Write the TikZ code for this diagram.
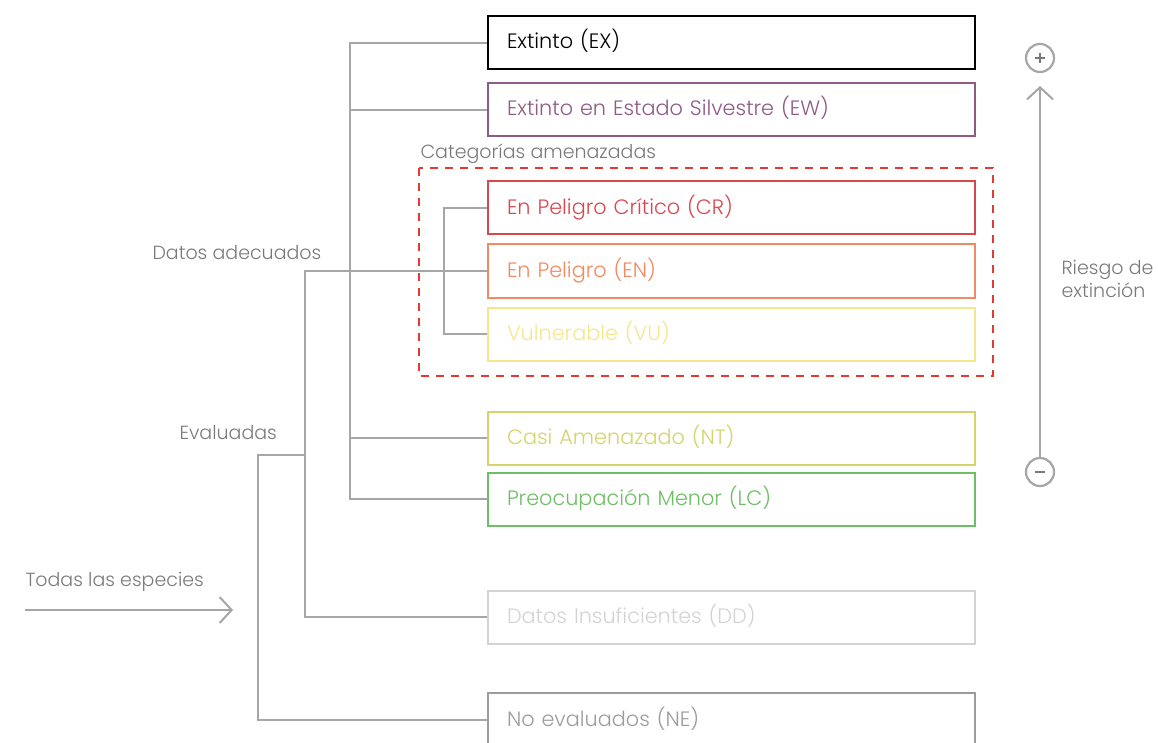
\documentclass[tikz,border=0pt]{standalone}
\usepackage{fontspec}
\setmainfont{Poppins}[UprightFont=* Light]
\usetikzlibrary{arrows.meta}
\definecolor{conn}{HTML}{A6A6A6}
\definecolor{lbl}{HTML}{7A7A7A}
\definecolor{cEW}{HTML}{8E5A86}
\definecolor{cCR}{HTML}{D9474E}
\definecolor{cEN}{HTML}{F08A60}
\definecolor{cVU}{HTML}{F5E68A}
\definecolor{cNT}{HTML}{D3D46A}
\definecolor{cLC}{HTML}{6DBE64}
\definecolor{cDD}{HTML}{D3D3D3}
\definecolor{cNE}{HTML}{9C9C9C}
\definecolor{dashred}{HTML}{E53935}
\tikzset{
  catbox/.style={draw=#1, text=#1, line width=2pt, rectangle, anchor=west,
    minimum height=53pt, text width=449pt, inner xsep=19pt, align=left,
    text height=15pt, text depth=1.5pt,
    font=\fontsize{20.8}{24}\selectfont},
  link/.style={draw=conn, line width=2pt},
  side/.style={text=lbl, font=\fontsize{19}{23}\selectfont},
}
\begin{document}
\begin{tikzpicture}[x=1pt, y=-1pt]
\useasboundingbox (0,0) rectangle (1158,743);

% category boxes
\node[catbox=black, text depth=4.5pt] (EX) at (487,43) {Extinto (EX)};
\node[catbox=cEW, text depth=4.5pt] (EW) at (487,110) {Extinto en Estado Silvestre (EW)};
\node[catbox=cCR] (CR) at (487,208) {En Peligro Crítico (CR)};
\node[catbox=cEN] (EN) at (487,271) {En Peligro (EN)};
\node[catbox=cVU] (VU) at (487,334) {Vulnerable (VU)};
\node[catbox=cNT] (NT) at (487,438) {Casi Amenazado (NT)};
\node[catbox=cLC] (LC) at (487,499) {Preocupación Menor (LC)};
\node[catbox=cDD] (DD) at (487,617) {Datos Insuficientes (DD)};
\node[catbox=cNE] (NE) at (487,719.5) {No evaluados (NE)};

% threatened group frame
\draw[dashred, line width=2pt, dash pattern=on 8pt off 7pt] (419,168) rectangle (993,376);
\node[side, anchor=west] (amen) at (417,154) {Categorías amenazadas};

% junction points of the tree
\coordinate (adeqEnd) at (350,499);
\coordinate (thrEnd) at (444,334);
\coordinate (evalEnd) at (305,617);
\coordinate (evalTop) at (258,455);
\coordinate (evalJoin) at (305,455);

% tree connectors
\draw[link] (EX.west) -| (adeqEnd) -- (LC.west);
\draw[link] (EW.west) -- (EW.west -| adeqEnd);
\draw[link] (NT.west) -- (NT.west -| adeqEnd);
\draw[link] (CR.west) -| (thrEnd) -- (VU.west);
\draw[link] (EN.west) -| (evalEnd) -- (DD.west);
\draw[link] (NE.west) -| (evalTop) -- (evalJoin);

% labels on the left
\node[side, anchor=west] (adeq) at (149,253) {Datos adecuados};
\node[side, anchor=west] (evalu) at (176,433) {Evaluadas};
\node[side, anchor=west] (todas) at (22,581.5) {Todas las especies};

% entry arrow
\coordinate (inStart) at (25,610);
\coordinate (inEnd) at (233,610);
\draw[link, -{Straight Barb[length=12pt, width=26pt, line width=2pt]}] (inStart) -- (inEnd);

% risk scale
\node[circle, draw=conn, line width=2.2pt, minimum size=28pt, inner sep=0pt] (plus) at (1040,58) {};
\node[circle, draw=conn, line width=2.2pt, minimum size=28pt, inner sep=0pt] (minus) at (1040,472) {};
\draw[draw=lbl, line width=2.6pt] (1035,58) -- (1045,58) (1040,53) -- (1040,63);
\draw[draw=lbl, line width=2.6pt] (1035,472) -- (1045,472);
\coordinate (riskTop) at (1040,86);
\draw[link, -{Straight Barb[length=12pt, width=26pt, line width=2pt]}] (minus.north) -- (riskTop);
\node[side, anchor=west, align=left] (riesgo) at (1058,279) {Riesgo de\\extinción};
\end{tikzpicture}
\end{document}
